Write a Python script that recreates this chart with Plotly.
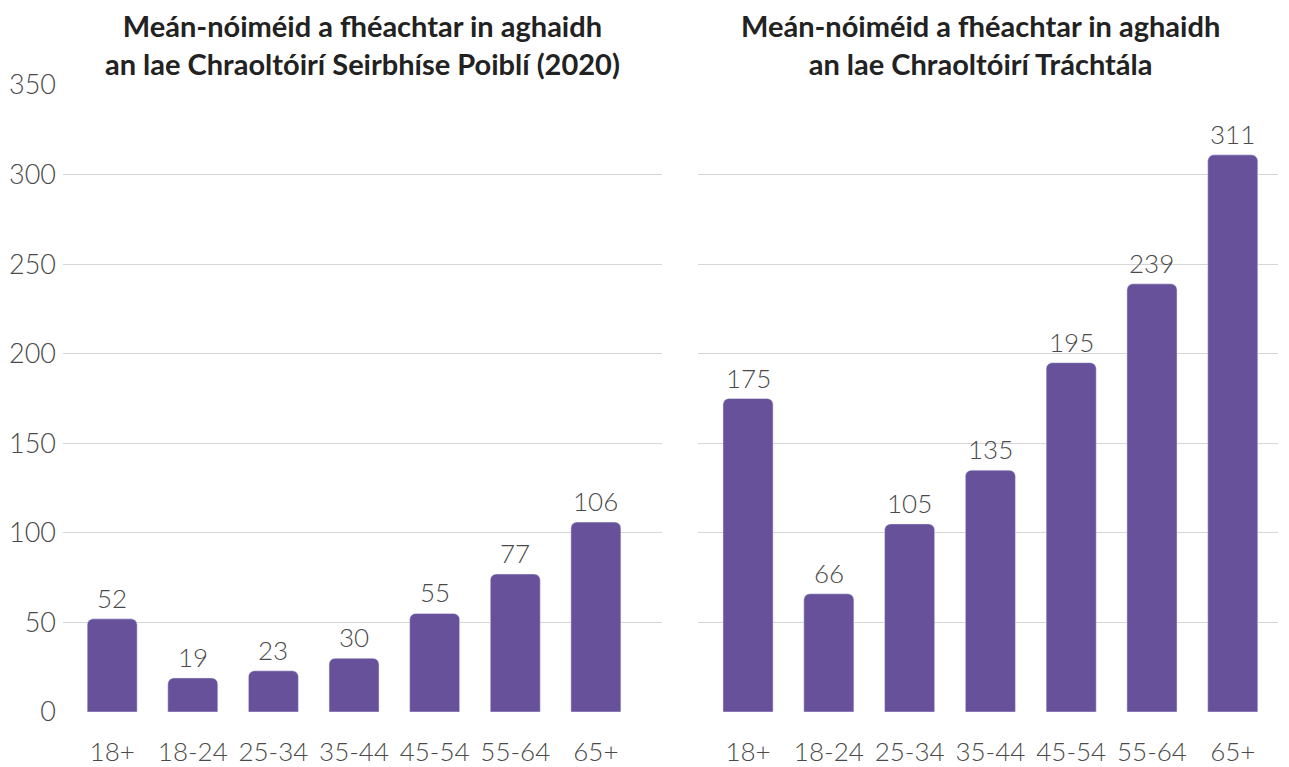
import plotly.graph_objects as go
from plotly.subplots import make_subplots

categories = ["18+", "18-24", "25-34", "35-44", "45-54", "55-64", "65+"]
public_values = [52, 19, 23, 30, 55, 77, 106]
commercial_values = [175, 66, 105, 135, 195, 239, 311]
y_ticks = [0, 50, 100, 150, 200, 250, 300, 350]
title_left = "Meán-nóiméid a fhéachtar in aghaidh<br>an lae Chraoltóirí Seirbhíse Poiblí (2020)"
title_right = "Meán-nóiméid a fhéachtar in aghaidh<br>an lae Chraoltóirí Tráchtála"

BAR = "#67519a"
LIGHT = "Lato Light, Lato"
BOLD = "Lato"
TXT = "#4a4a4a"

fig = make_subplots(rows=1, cols=2, horizontal_spacing=0.03)
fig.add_trace(go.Bar(x=categories, y=public_values, marker=dict(color=BAR, cornerradius=6),
                     width=0.62, showlegend=False), row=1, col=1)
fig.add_trace(go.Bar(x=categories, y=commercial_values, marker=dict(color=BAR, cornerradius=6),
                     width=0.62, showlegend=False), row=1, col=2)

for xref, vals in (("x", public_values), ("x2", commercial_values)):
    yref = "y" if xref == "x" else "y2"
    for c, v in zip(categories, vals):
        fig.add_annotation(x=c, y=v, xref=xref, yref=yref, text=str(v), showarrow=False,
                           yanchor="bottom", yshift=3,
                           font=dict(family=LIGHT, size=26, color=TXT, weight=300))

fig.update_layout(
    width=1281, height=759,
    margin=dict(l=55, r=11, t=77, b=55),
    plot_bgcolor="white", paper_bgcolor="white",
    font=dict(family=LIGHT, color=TXT),
)
fig.update_xaxes(domain=[0, 0.493], range=[-0.61, 6.82], row=1, col=1)
fig.update_xaxes(domain=[0.5226, 1], range=[-0.62, 6.56], row=1, col=2)
fig.update_xaxes(showgrid=False, showline=False, zeroline=False, automargin=False,
                 ticks="outside", ticklen=17, tickcolor="rgba(0,0,0,0)",
                 tickfont=dict(family=LIGHT, size=26, color=TXT, weight=300))
fig.update_yaxes(range=[0, 350], tickvals=y_ticks, showgrid=True, gridcolor="#d6d6d6",
                 gridwidth=1, zeroline=False, showline=False, automargin=False,
                 tickfont=dict(family=LIGHT, size=27, color=TXT, weight=300))
fig.update_yaxes(ticklabelstandoff=6, row=1, col=1)
fig.update_yaxes(showticklabels=False, row=1, col=2)

fig.add_annotation(x=0.493 / 2, y=1.0, xref="paper", yref="paper", xanchor="center",
                   text=title_left, showarrow=False, yanchor="bottom", yshift=2,
                   font=dict(family=BOLD, size=29, color="#222222", weight=700))
fig.add_annotation(x=(0.5226 + 1) / 2 - 0.006, y=1.0, xref="paper", yref="paper", xanchor="center",
                   text=title_right, showarrow=False, yanchor="bottom", yshift=2,
                   font=dict(family=BOLD, size=29, color="#222222", weight=700))

fig.write_html("out.html")
